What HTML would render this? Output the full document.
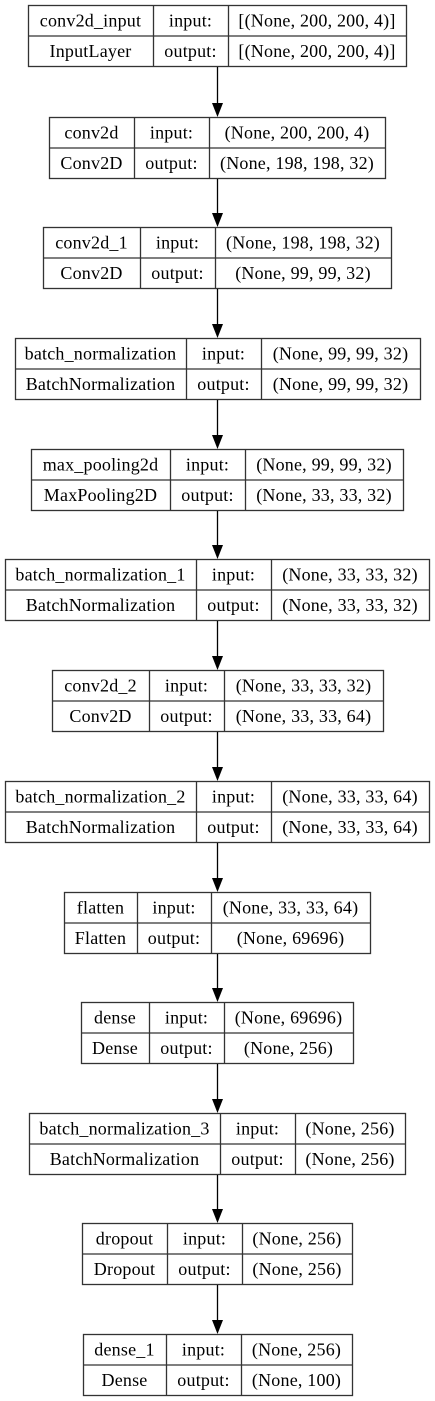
<!DOCTYPE html>
<html><head><meta charset="utf-8"><style>
html,body{margin:0;padding:0;background:#fff;width:435px;height:1401px;overflow:hidden}
svg{display:block}
text{font-family:"Liberation Serif",serif;font-size:18px;letter-spacing:0.2px;fill:#000}
</style></head><body>
<svg id="g" width="435" height="1401" viewBox="0 0 435 1401"></svg>
<script>
const names=["conv2d_input","conv2d","conv2d_1","batch_normalization","max_pooling2d","batch_normalization_1","conv2d_2","batch_normalization_2","flatten","dense","batch_normalization_3","dropout","dense_1"];
const types=["InputLayer","Conv2D","Conv2D","BatchNormalization","MaxPooling2D","BatchNormalization","Conv2D","BatchNormalization","Flatten","Dense","BatchNormalization","Dropout","Dense"];
const inShapes=["[(None, 200, 200, 4)]","(None, 200, 200, 4)","(None, 198, 198, 32)","(None, 99, 99, 32)","(None, 99, 99, 32)","(None, 33, 33, 32)","(None, 33, 33, 32)","(None, 33, 33, 64)","(None, 33, 33, 64)","(None, 69696)","(None, 256)","(None, 256)","(None, 256)"];
const outShapes=["[(None, 200, 200, 4)]","(None, 198, 198, 32)","(None, 99, 99, 32)","(None, 99, 99, 32)","(None, 33, 33, 32)","(None, 33, 33, 32)","(None, 33, 33, 64)","(None, 33, 33, 64)","(None, 69696)","(None, 256)","(None, 256)","(None, 256)","(None, 100)"];
// layout geometry (not data)
const X1=[28,49,43,15,31,5,52,5,64,81,29,82,83];
const X2=[406,385,391,420,403,429,383,429,370,353,405,352,352];
const C1=[153,134,140,186,170,196,149,196,137,149,220,167,166];
const C2=[228,209,215,261,245,271,224,271,211,224,295,242,241];
const Y1=[5,117,227,338,449,559,670,781,892,1002,1113,1223,1334];
const H=61, CX=217;
const svg=document.getElementById('g');
const NS="http://www.w3.org/2000/svg";
function mk(t,a,p){const e=document.createElementNS(NS,t);for(const k in a)e.setAttribute(k,a[k]);(p||svg).appendChild(e);return e;}
function txt(x,y,s,p){const t=mk('text',{x:x,y:y,'text-anchor':'middle'},p);t.textContent=s;return t;}
for(let i=0;i<names.length;i++){
  const g=mk('g',{});
  
  
  const x1=X1[i],x2=X2[i],y=Y1[i],c1=C1[i],c2=C2[i],m=y+H/2;
  mk('rect',{x:x1+0.5,y:y+0.5,width:x2-x1,height:H,fill:'#fff',stroke:'#333','stroke-width':1.3},g);
  mk('line',{x1:x1,y1:m+0.5,x2:x2,y2:m+0.5,stroke:'#333','stroke-width':1.3},g);
  mk('line',{x1:c1+0.5,y1:y,x2:c1+0.5,y2:y+H,stroke:'#333','stroke-width':1.3},g);
  mk('line',{x1:c2+0.5,y1:y,x2:c2+0.5,y2:y+H,stroke:'#333','stroke-width':1.3},g);
  const ty1=y+H/4+6, ty2=y+3*H/4+6;
  const a=txt((x1+c1)/2,ty1,names[i],g); 
  const b=txt((x1+c1)/2,ty2,types[i],g); 
  const c=txt((c1+c2)/2,ty1,'input:',g); 
  const d=txt((c1+c2)/2,ty2,'output:',g); 
  const e=txt((c2+x2)/2,ty1,inShapes[i],g); 
  const f=txt((c2+x2)/2,ty2,outShapes[i],g); 
  if(i>0){
    const ar=mk('g',{});
    
    
    const top=Y1[i-1]+H+1, bot=y;
    mk('line',{x1:CX+0.5,y1:top,x2:CX+0.5,y2:bot-13,stroke:'#000','stroke-width':1.3},ar);
    mk('polygon',{points:(CX-5)+','+(bot-14)+' '+(CX+6)+','+(bot-14)+' '+(CX+0.5)+','+bot,fill:'#000'},ar);
  }
}
</script>
</body></html>
